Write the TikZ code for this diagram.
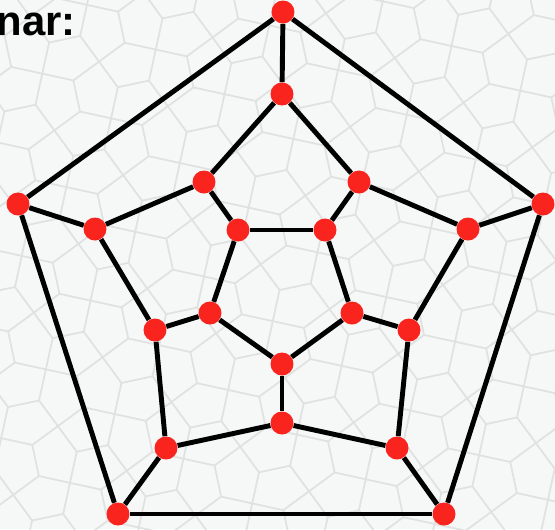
\documentclass[tikz,border=0pt]{standalone}
\usepackage{fontspec}
\setmainfont{Liberation Sans}
\usepackage{tikz}
\usepackage{xcolor}
\definecolor{paper}{RGB}{245,248,247}
\definecolor{tile}{RGB}{224,226,226}
\definecolor{vertexred}{RGB}{250,36,30}

\begin{document}
\begin{tikzpicture}[x=0.02cm,y=-0.02cm,
  vertex/.style={circle,fill=vertexred,inner sep=0pt,minimum size=0.46cm},
  edge/.style={line width=2.8pt,black},
  tileline/.style={tile,line width=1pt,line cap=round}]
\useasboundingbox (0,0) rectangle (555,529);
\fill[paper] (0,0) rectangle (555,529);
% faint pentagon tiling behind the graph
\begin{scope}
\clip (0,0) rectangle (555,529);
\begin{scope}[rotate around={12:(277,264)}]
\def\a{58}
\def\d{15.9}
\foreach \i in {-4,...,13} {
  \foreach \j in {-4,...,13} {
    \pgfmathtruncatemacro\odd{mod(\i+\j+20,2)}
    \pgfmathsetmacro\px{\i*\a}
    \pgfmathsetmacro\py{\j*\a}
    \ifnum\odd=0
      \draw[tileline] (\px-\d,\py) -- (\px+\d,\py);
      \draw[tileline] (\px+\a/2,\py-\a/2) -- (\px+\d,\py) -- (\px+\a/2,\py+\a/2);
      \draw[tileline] (\px-\a/2,\py-\a/2) -- (\px-\d,\py) -- (\px-\a/2,\py+\a/2);
    \else
      \draw[tileline] (\px,\py-\d) -- (\px,\py+\d);
      \draw[tileline] (\px-\a/2,\py+\a/2) -- (\px,\py+\d) -- (\px+\a/2,\py+\a/2);
      \draw[tileline] (\px-\a/2,\py-\a/2) -- (\px,\py-\d) -- (\px+\a/2,\py-\a/2);
    \fi
  }
}
\end{scope}
\end{scope}
\node[anchor=base east,inner sep=0pt,font=\fontsize{23.8pt}{26pt}\selectfont\bfseries] (title) at (76,35) {nar:};
% outer pentagon
\node[vertex] (o1) at (283,12) {};
\node[vertex] (o2) at (543,204) {};
\node[vertex] (o3) at (444,514) {};
\node[vertex] (o4) at (118,514) {};
\node[vertex] (o5) at (18,204) {};
% second ring
\node[vertex] (s1) at (282,94) {};
\node[vertex] (s2) at (468,229) {};
\node[vertex] (s3) at (397,448) {};
\node[vertex] (s4) at (166,448) {};
\node[vertex] (s5) at (95,229) {};
% middle ring
\node[vertex] (m1) at (359,182) {};
\node[vertex] (m2) at (409,330) {};
\node[vertex] (m3) at (282,423) {};
\node[vertex] (m4) at (155,330) {};
\node[vertex] (m5) at (204,182) {};
% core pentagon
\node[vertex] (c1) at (325,230) {};
\node[vertex] (c2) at (352,313) {};
\node[vertex] (c3) at (282,364) {};
\node[vertex] (c4) at (210,313) {};
\node[vertex] (c5) at (238,230) {};
\foreach \k/\n in {1/2,2/3,3/4,4/5,5/1} {
  \draw[edge] (o\k) -- (o\n);
  \draw[edge] (o\k) -- (s\k);
  \draw[edge] (s\k) -- (m\k);
  \draw[edge] (m\k) -- (s\n);
  \draw[edge] (m\k) -- (c\k);
  \draw[edge] (c\k) -- (c\n);
}
\end{tikzpicture}
\end{document}
